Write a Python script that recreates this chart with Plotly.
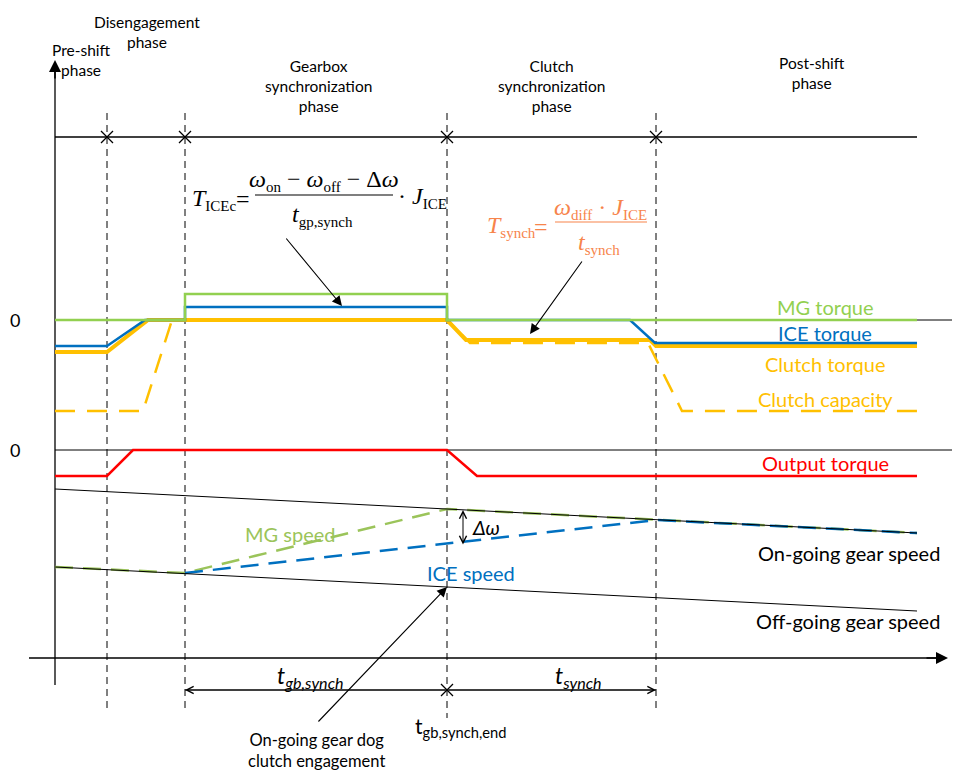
import plotly.graph_objects as go

# ---------------- data (schematic units) ----------------
# key time instants: start, disengagement start, gearbox synch start, gearbox synch end, clutch synch end, end
t_phase = [55, 107, 185, 447, 656, 917]

# torque signals, relative to their zero line (positive = up)
mg_torque_t = [55, 185, 185, 447, 447, 917]
mg_torque = [0, 0, 26, 26, 0, 0]
ice_torque_t = [55, 107, 145, 185, 185, 447, 447, 630, 655, 917]
ice_torque = [-26, -26, 0, 0, 13, 13, 0, 0, -23, -23]
clutch_torque_t = [55, 107, 148, 447, 466, 650, 656, 917]
clutch_torque = [-32, -32, 0, 0, -20, -20, -26, -26]
clutch_cap_t = [55, 143, 172, 447, 470, 648, 682, 917]
clutch_cap = [-91, -91, 0, 0, -23, -23, -91, -91]
output_t = [55, 107, 133, 447, 477, 917]
output_torque = [-26, -26, 0, 0, -26, -26]

# speed signals, relative to the time axis (positive = up)
gear_t = [55, 917]
ongoing_speed = [169, 125]
offgoing_speed = [91, 47]
mg_speed_t = [55, 185, 447, 917]
mg_speed = [91, 85, 149, 125]
ice_speed_t = [185, 656, 917]
ice_speed = [85, 138, 125]

phase_labels = ["Pre-shift<br>phase", "Disengagement<br>phase", "Gearbox<br>synchronization<br>phase",
                "Clutch<br>synchronization<br>phase", "Post-shift<br>phase"]
torque_labels = ["MG torque", "ICE torque", "Clutch torque", "Clutch capacity", "Output torque"]
speed_labels = ["MG speed", "ICE speed", "On-going gear speed", "Off-going gear speed"]

# ---------------- layout constants ----------------
PAGE_OFF = 8          # browser body margin
W, H = 960, 771
Y_TORQUE0 = 320
Y_OUT0 = 450
Y_TAXIS = 658
Y_PHASE = 137
Y_DIM = 690

GREEN = "#92D050"
BLUE = "#0070C0"
YELLOW = "#FFC000"
RED = "#FF0000"
OLIVE = "#9BC45A"
ORANGE = "#F7844B"
FONT = "Lato"
SERIF = "Liberation Serif"


def ylev(base, vals):
    return [base - v for v in vals]


def sub(s, px=15):
    return f"<sub><span style='font-size:{px}px'>{s}</span></sub>"


fig = go.Figure()


def line(x, y, color="black", width=1, dash=None):
    fig.add_trace(go.Scatter(x=x, y=y, mode="lines", hoverinfo="skip",
                             line=dict(color=color, width=width, dash=dash)))


# vertical dashed phase boundaries
bottoms = [710, 710, 718, 712]
for tx, yb in zip(t_phase[1:5], bottoms):
    line([tx, tx], [113, yb], "black", 1, "7px,5px")

# axes
line([t_phase[0], t_phase[0]], [685, 70], "black", 1.3)
line([29, 940], [Y_TAXIS, Y_TAXIS], "black", 1.3)
line([t_phase[0], t_phase[-1]], [Y_PHASE, Y_PHASE], "black", 1.3)
line([t_phase[0], 960], [Y_TORQUE0, Y_TORQUE0], "black", 1)
line([t_phase[0], 960], [Y_OUT0, Y_OUT0], "black", 1)

# torque signals
line(clutch_cap_t, ylev(Y_TORQUE0, clutch_cap), YELLOW, 2.5, "20px,12px")
line(clutch_torque_t, ylev(Y_TORQUE0, clutch_torque), YELLOW, 4)
line(ice_torque_t, ylev(Y_TORQUE0, ice_torque), BLUE, 2.5)
line(mg_torque_t, ylev(Y_TORQUE0, mg_torque), GREEN, 2.5)
line(output_t, ylev(Y_OUT0, output_torque), RED, 2.5)

# speed signals
line(mg_speed_t, ylev(Y_TAXIS, mg_speed), OLIVE, 2.5, "18px,10px")
line(ice_speed_t, ylev(Y_TAXIS, ice_speed), BLUE, 2.5, "18px,10px")
line(gear_t, ylev(Y_TAXIS, ongoing_speed), "black", 1)
line(gear_t, ylev(Y_TAXIS, offgoing_speed), "black", 1)

# dimension line
line([t_phase[2], t_phase[4]], [Y_DIM, Y_DIM], "black", 1)

# x markers
fig.add_trace(go.Scatter(x=t_phase[1:5] + [t_phase[3]], y=[Y_PHASE] * 4 + [Y_DIM], mode="markers",
                         hoverinfo="skip",
                         marker=dict(symbol="x-thin", size=12, line=dict(color="black", width=1.3))))

ann = []


def arrow(x0, y0, x1, y1, head=2, size=1.6, width=1.2, side="end", color="black"):
    ann.append(dict(x=x1, y=y1, ax=x0, ay=y0, xref="x", yref="y", axref="x", ayref="y",
                    text="", showarrow=True, arrowhead=head, arrowsize=size, arrowwidth=width,
                    arrowcolor=color, arrowside=side, startarrowhead=head, startarrowsize=size,
                    standoff=0, startstandoff=0))


def text(x, y, s, size=16, color="black", family=FONT, xanchor="center", yanchor="middle"):
    ann.append(dict(x=x, y=y, xref="x", yref="y", text=s, showarrow=False,
                    font=dict(size=size, color=color, family=family),
                    xanchor=xanchor, yanchor=yanchor, align="center"))


# axis arrowheads
arrow(t_phase[0], 80, t_phase[0], 60, head=2, size=1.5, width=1.6)
arrow(925, Y_TAXIS, 948, Y_TAXIS, head=2, size=1.5, width=1.6)

# dimension arrows
arrow(t_phase[3], Y_DIM, t_phase[2], Y_DIM, head=5, size=1.4, width=1)
arrow(t_phase[3], Y_DIM, t_phase[4], Y_DIM, head=5, size=1.4, width=1)
# delta omega
arrow(463, 546, 463, 510, head=5, size=1.4, width=1, side="end+start")

# pointer arrows
arrow(285, 237, 342, 306, head=2, size=1.8, width=1.1)
arrow(583, 260, 530, 334, head=2, size=1.8, width=1.1)
arrow(317, 723, 447, 587, head=2, size=1.8, width=1.1)

# phase labels
PS = 15.5
text(81, 60, phase_labels[0], PS)
text(147, 32, phase_labels[1], PS)
text(318, 86, phase_labels[2], PS)
text(551, 86, phase_labels[3], PS)
text(812, 73, phase_labels[4], PS)

# zero labels
text(15, Y_TORQUE0, "0", 18)
text(15, Y_OUT0, "0", 18)

# torque labels
LS = 20
text(825, 307, torque_labels[0], LS, GREEN)
text(825, 333, torque_labels[1], LS, BLUE)
text(825, 364, torque_labels[2], LS, YELLOW)
text(825, 399, torque_labels[3], LS, YELLOW)
text(825, 463, torque_labels[4], LS, RED)

# speed labels
text(290, 534, speed_labels[0], LS, OLIVE)
text(471, 573, speed_labels[1], LS, BLUE)
text(849, 553, speed_labels[2], LS)
text(848, 621, speed_labels[3], LS)
text(486, 527, "<i>Δω</i>", 20)

# time labels
text(310, 676, "<i>t<sub>gb,synch</sub></i>", 23)
text(578, 676, "<i>t<sub>synch</sub></i>", 23)
text(460, 727, "t<sub>gb,synch,end</sub>", 21)
text(316, 750, "On-going gear dog<br>clutch engagement", 16.5)

# formula 1 (black)
FS = 24
text(190, 199, "<i>T</i>" + sub("ICEc"), FS, "black", SERIF, xanchor="left")
text(243, 199, "=", FS, "black", SERIF)
text(324, 180, "<i>ω</i>" + sub("on") + " − <i>ω</i>" + sub("off") + " − Δ<i>ω</i>", FS, "black", SERIF)
text(322, 215, "<i>t</i>" + sub("gp,synch"), FS, "black", SERIF)
text(396, 197, "· <i>J</i>" + sub("ICE"), FS, "black", SERIF, xanchor="left")
line([255, 393], [195, 195], "black", 1.2)

# formula 2 (orange)
text(485, 226, "<i>T</i>" + sub("synch"), FS, ORANGE, SERIF, xanchor="left")
text(541, 227, "=", FS, ORANGE, SERIF)
text(600, 208, "<i>ω</i>" + sub("diff") + " · <i>J</i>" + sub("ICE"), FS, ORANGE, SERIF)
text(599, 243, "<i>t</i>" + sub("synch"), FS, ORANGE, SERIF)
line([555, 647], [222, 222], ORANGE, 1.2)

fig.update_layout(
    width=W - PAGE_OFF, height=H - PAGE_OFF, margin=dict(l=0, r=0, t=0, b=0),
    paper_bgcolor="white", plot_bgcolor="white", showlegend=False,
    xaxis=dict(range=[PAGE_OFF, W], visible=False, fixedrange=True),
    yaxis=dict(range=[H, PAGE_OFF], visible=False, fixedrange=True),
    annotations=ann,
)

fig.write_html("out.html")
